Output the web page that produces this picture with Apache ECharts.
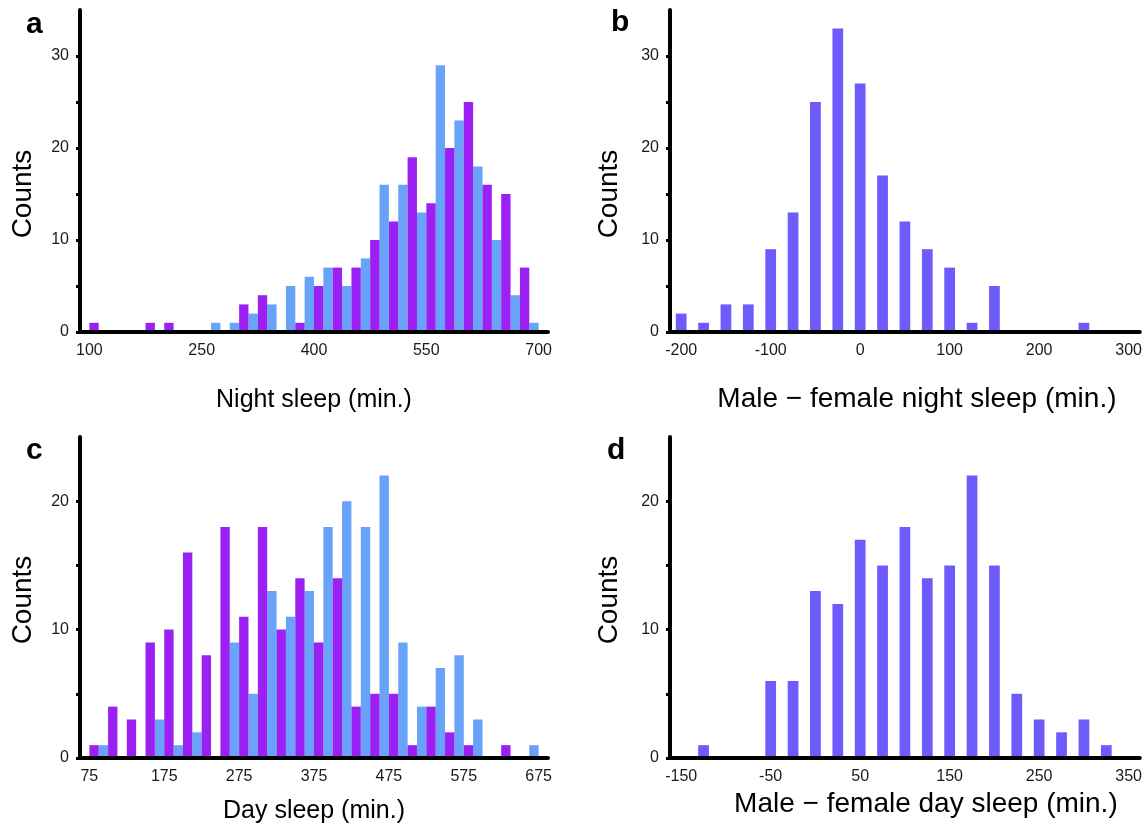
<!DOCTYPE html>
<html><head><meta charset="utf-8">
<script src="https://cdn.jsdelivr.net/npm/echarts@6/dist/echarts.min.js"></script>
<style>html,body{margin:0;padding:0;background:#fff}#c{width:1145px;height:832px}</style>
</head><body><div id="c"></div>
<script>
// ---- data ----
const nightBins = ['100','125','150','175','200','225','250','275','300','325','350','375','400','425','450','475','500','525','550','575','600','625','650','675','700'];
const nightBlue   = [0,0,0,0,0,0,0,1,1,2,3,5,6,7,5,8,16,16,13,29,23,18,10,4,1];
const nightPurple = [1,0,0,1,1,0,0,0,3,4,0,1,5,7,7,10,12,19,14,20,25,16,15,7,0];

const diffNightBins = ['-200','-175','-150','-125','-100','-75','-50','-25','0','25','50','75','100','125','150','175','200','225','250','275','300'];
const diffNight = [2,1,3,3,9,13,25,33,27,17,12,9,7,1,5,0,0,0,1,0,0];

const dayBins = ['75','100','125','150','175','200','225','250','275','300','325','350','375','400','425','450','475','500','525','550','575','600','625','650','675'];
const dayBlue   = [0,1,0,0,3,1,2,0,9,5,13,11,13,18,20,18,22,9,4,7,8,3,0,0,1];
const dayPurple = [1,4,3,9,10,16,8,18,11,18,10,14,9,14,4,5,5,1,4,2,1,0,1,0,0];

const diffDayBins = ['-150','-125','-100','-75','-50','-25','0','25','50','75','100','125','150','175','200','225','250','275','300','325','350'];
const diffDay = [0,1,0,0,6,6,13,12,17,15,18,14,15,22,15,5,3,2,3,1,0];

const yTicksTop = [0,5,10,15,20,25,30];
const yLabelsTop = [0,10,20,30];
const yTicksBottom = [0,5,10,15,20];
const yLabelsBottom = [0,10,20];

// ---- style ----
const FONT = '"Liberation Sans", Arial, Helvetica, sans-serif';
const BLUE = '#68a3f9', PURPLE = '#9b20f3', INDIGO = '#6e5bfb';

const grids = [
  {left: 80, top: 10, width: 468, height: 322},
  {left: 670, top: 10, width: 470, height: 322},
  {left: 80, top: 437, width: 468, height: 321},
  {left: 670, top: 437, width: 470, height: 321}
];

function xCat(gi, cats, every, name, gap, size, pad) {
  return {
    type: 'category', gridIndex: gi, data: cats, boundaryGap: true, z: 5,
    axisLine: {lineStyle: {color: '#000', width: 4, cap: 'round'}},
    axisTick: {interval: 0, length: 6, lineStyle: {color: '#000', width: 3}},
    axisLabel: {interval: every - 1, margin: 11, fontSize: 16, color: '#1a1a1a', fontFamily: FONT},
    name: name, nameLocation: 'middle', nameGap: gap, nameMoveOverlap: false,
    nameTextStyle: {fontSize: size, color: '#000', fontFamily: FONT, padding: pad}
  };
}
function yVal(gi, max, ticks, labels, gap, pad) {
  return {
    type: 'value', gridIndex: gi, min: 0, max: max, z: 5,
    axisLine: {show: true, lineStyle: {color: '#000', width: 4, cap: 'round'}},
    axisTick: {show: true, length: 4, customValues: ticks, lineStyle: {color: '#000', width: 3}},
    axisLabel: {customValues: labels, margin: 11, fontSize: 16, color: '#1a1a1a', fontFamily: FONT},
    splitLine: {show: false},
    name: 'Counts', nameLocation: 'middle', nameRotate: 90, nameGap: gap, nameMoveOverlap: false,
    nameTextStyle: {fontSize: 28, color: '#000', fontFamily: FONT, padding: pad}
  };
}

const option = {
  animation: false,
  backgroundColor: '#fff',
  grid: grids,
  xAxis: [
    xCat(0, nightBins, 6, 'Night sleep (min.)', 56, 25, [0, 0, 0, 0]),
    xCat(1, diffNightBins, 4, 'Male \u2212 female night sleep (min.)', 53, 28, [0, 0, 0, 24]),
    xCat(2, dayBins, 4, 'Day sleep (min.)', 41, 25, [0, 0, 0, 0]),
    xCat(3, diffDayBins, 4, 'Male \u2212 female day sleep (min.)', 32, 28, [0, 0, 0, 42])
  ],
  yAxis: [
    yVal(0, 35, yTicksTop, yLabelsTop, 43, [0, 46, 0, 0]),
    yVal(1, 35, yTicksTop, yLabelsTop, 47, [0, 46, 0, 0]),
    yVal(2, 25, yTicksBottom, yLabelsBottom, 43, [0, 5, 0, 0]),
    yVal(3, 25, yTicksBottom, yLabelsBottom, 47, [0, 5, 0, 0])
  ],
  series: [
    {type: 'bar', xAxisIndex: 0, yAxisIndex: 0, data: nightBlue, itemStyle: {color: BLUE}, barGap: '0%', barCategoryGap: '0%'},
    {type: 'bar', xAxisIndex: 0, yAxisIndex: 0, data: nightPurple, itemStyle: {color: PURPLE}, barGap: '0%', barCategoryGap: '0%'},
    {type: 'bar', xAxisIndex: 1, yAxisIndex: 1, data: diffNight, itemStyle: {color: INDIGO}, barWidth: '48%'},
    {type: 'bar', xAxisIndex: 2, yAxisIndex: 2, data: dayBlue, itemStyle: {color: BLUE}, barGap: '0%', barCategoryGap: '0%'},
    {type: 'bar', xAxisIndex: 2, yAxisIndex: 2, data: dayPurple, itemStyle: {color: PURPLE}, barGap: '0%', barCategoryGap: '0%'},
    {type: 'bar', xAxisIndex: 3, yAxisIndex: 3, data: diffDay, itemStyle: {color: INDIGO}, barWidth: '48%'}
  ],
  graphic: [
    {type: 'text', left: 26, top: 10, style: {text: 'a', font: 'bold 30px ' + FONT, fill: '#000'}},
    {type: 'text', left: 611, top: 8, style: {text: 'b', font: 'bold 30px ' + FONT, fill: '#000'}},
    {type: 'text', left: 26, top: 436, style: {text: 'c', font: 'bold 30px ' + FONT, fill: '#000'}},
    {type: 'text', left: 607, top: 436, style: {text: 'd', font: 'bold 30px ' + FONT, fill: '#000'}}
  ]
};

const chart = echarts.init(document.getElementById('c'), null, {renderer: 'canvas'});
chart.setOption(option);
</script>
</body></html>
